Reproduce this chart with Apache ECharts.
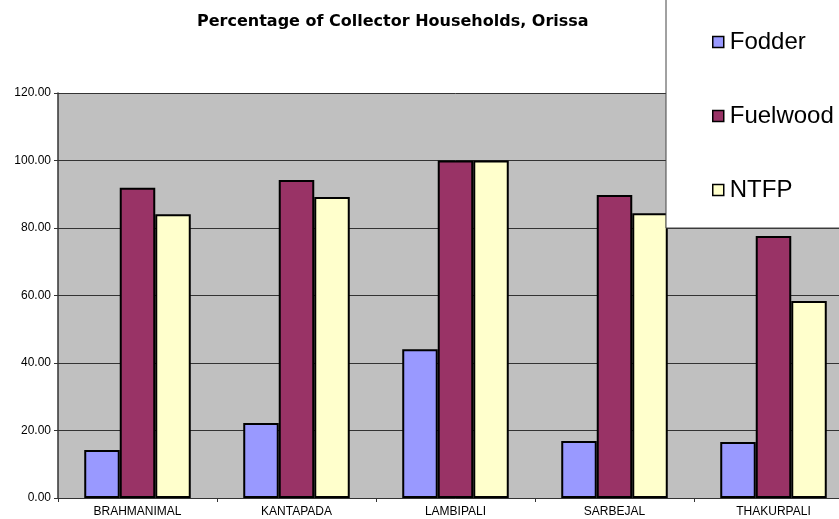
<!DOCTYPE html>
<html>
<head>
<meta charset="utf-8">
<script src="https://cdn.jsdelivr.net/npm/echarts@6/dist/echarts.min.js"></script>
<style>
  html, body { margin: 0; padding: 0; background: #fff; overflow: hidden; }
  /* plot runs past the right edge of the window, like the original */
  #chart { width: 853px; height: 519px; }
</style>
</head>
<body>
<div id="chart"></div>
<script>
// 村名
const villages = ['BRAHMANIMAL', 'KANTAPADA', 'LAMBIPALI', 'SARBEJAL', 'THAKURPALI']
const fodder = [14.2, 22.2, 44.1, 16.9, 16.6]
const fuelwood = [91.9, 94.2, 100.0, 89.8, 77.6]
const ntfp = [84.1, 89.2, 100.0, 84.4, 58.4]
const yTicks = { min: 0, max: 120, interval: 20 }

const myChart = echarts.init(document.getElementById('chart'))

const barStyle = (color) => ({
  color: color,
  borderColor: '#000',
  borderWidth: 2
})

const option = {
  backgroundColor: '#fff',
  animation: false,
  title: {
    text: 'Percentage of Collector Households, Orissa',
    left: 192,
    top: 9,
    textStyle: {
      fontFamily: 'DejaVu Sans',
      fontSize: 16,
      fontWeight: 'bold',
      color: '#000'
    }
  },
  legend: {
    orient: 'vertical',
    left: 666,
    top: -1,
    padding: [31, 100, 26, 46],
    itemGap: 50,
    itemWidth: 11,
    itemHeight: 11,
    backgroundColor: '#fff',
    borderColor: '#444',
    borderWidth: 1,
    icon: 'rect',
    itemStyle: { borderColor: '#000', borderWidth: 1.5 },
    textStyle: {
      fontFamily: 'Liberation Sans',
      fontSize: 24,
      color: '#000',
      padding: [0, 0, 0, 1]
    },
    data: ['Fodder', 'Fuelwood', 'NTFP']
  },
  grid: {
    left: 58,
    top: 93,
    bottom: 21,
    right: 0,
    show: true,
    backgroundColor: '#C0C0C0',
    borderWidth: 0,
    containLabel: false
  },
  xAxis: {
    type: 'category',
    data: villages,
    axisLine: { lineStyle: { color: '#333', width: 1 } },
    axisTick: { show: true, length: 4, lineStyle: { color: '#333' } },
    axisLabel: {
      interval: 0,
      margin: 8,
      fontFamily: 'Liberation Sans',
      fontSize: 12,
      color: '#000'
    }
  },
  yAxis: {
    type: 'value',
    min: yTicks.min,
    max: yTicks.max,
    interval: yTicks.interval,
    axisLine: { show: true, lineStyle: { color: '#333', width: 1.5 } },
    axisTick: { show: true, length: 4, lineStyle: { color: '#333' } },
    splitLine: { lineStyle: { color: '#333', width: 1 } },
    axisLabel: {
      margin: 7,
      fontFamily: 'Liberation Sans',
      fontSize: 12,
      color: '#000',
      formatter: (v) => v.toFixed(2)
    }
  },
  series: [
    {
      name: 'Fodder',
      type: 'bar',
      data: fodder,
      barGap: '0%',
      barCategoryGap: '33%',
      itemStyle: barStyle('#9999FF')
    },
    {
      name: 'Fuelwood',
      type: 'bar',
      data: fuelwood,
      itemStyle: barStyle('#993366')
    },
    {
      name: 'NTFP',
      type: 'bar',
      data: ntfp,
      itemStyle: barStyle('#FFFFCC')
    }
  ]
}

myChart.setOption(option)
</script>
</body>
</html>
